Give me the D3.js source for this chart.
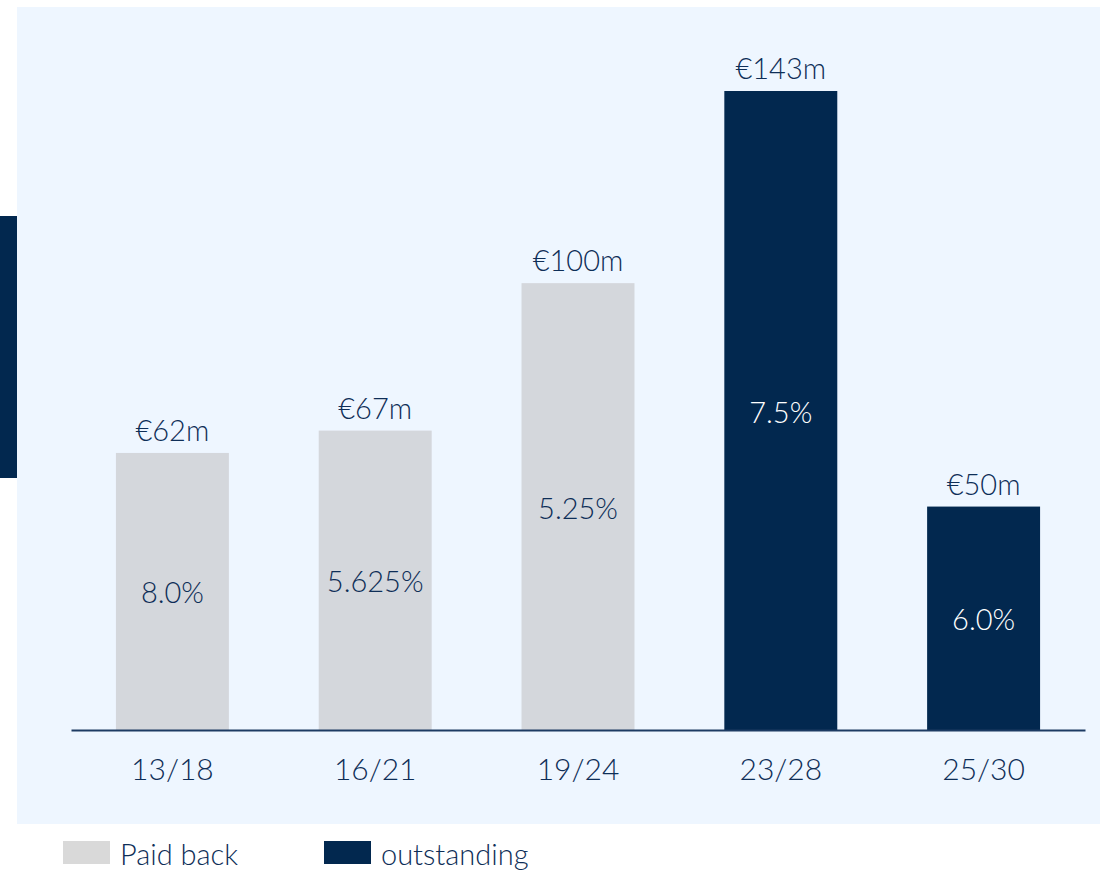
<!DOCTYPE html>
<html>
<head>
<meta charset="utf-8">
<script src="https://cdn.jsdelivr.net/npm/d3@7"></script>
<style>
  body { margin: 0; background: #ffffff; }
  svg text { font-family: Lato, "Open Sans", sans-serif; font-weight: 300; fill: #0e2e57; }
</style>
</head>
<body>
<div id="chart"></div>
<script>
// bond data
var bonds = ["13/18", "16/21", "19/24", "23/28", "25/30"];
var amounts = [62, 67, 100, 143, 50];
var coupons = ["8.0%", "5.625%", "5.25%", "7.5%", "6.0%"];
var bondStatus = ["Paid back", "Paid back", "Paid back", "outstanding", "outstanding"];
var legendItems = ["Paid back", "outstanding"];

var width = 1100, height = 872;
var colors = {"Paid back": "#d4d7dc", "outstanding": "#02284f"};

var svg = d3.select("#chart")
  .append("svg")
    .attr("width", width)
    .attr("height", height);

// panel background
svg.append("rect")
  .attr("x", 17).attr("y", 7)
  .attr("width", width - 17).attr("height", 817)
  .attr("fill", "#eef6ff");

// dark accent on left edge
svg.append("rect")
  .attr("x", 0).attr("y", 216)
  .attr("width", 17).attr("height", 262)
  .attr("fill", "#02284f");

var x = d3.scaleBand()
  .domain(bonds)
  .range([71, 1085])
  .paddingInner(0.443)
  .paddingOuter(0.2215);

var y = d3.scaleLinear()
  .domain([0, 143])
  .range([730, 91]);

var data = bonds.map(function(b, i) {
  return {bond: b, amount: amounts[i], coupon: coupons[i], status: bondStatus[i]};
});

svg.append("g")
  .selectAll("rect")
  .data(data)
  .enter()
  .append("rect")
    .attr("x", function(d) { return x(d.bond); })
    .attr("y", function(d) { return y(d.amount); })
    .attr("width", x.bandwidth())
    .attr("height", function(d) { return y(0) - y(d.amount); })
    .attr("fill", function(d) { return colors[d.status]; });

// amount labels on top
svg.append("g")
  .selectAll("text")
  .data(data)
  .enter()
  .append("text")
    .attr("x", function(d) { return x(d.bond) + x.bandwidth() / 2; })
    .attr("y", function(d) { return y(d.amount) - 12; })
    .attr("text-anchor", "middle")
    .style("font-size", "29px")
    .text(function(d) { return "€" + d.amount + "m"; });

// coupon labels inside bars
svg.append("g")
  .selectAll("text")
  .data(data)
  .enter()
  .append("text")
    .attr("x", function(d) { return x(d.bond) + x.bandwidth() / 2; })
    .attr("y", function(d) { return (y(d.amount) + y(0)) / 2 + 12; })
    .attr("text-anchor", "middle")
    .style("font-size", "29px")
    .style("fill", function(d) { return d.status == "outstanding" ? "#ffffff" : "#0e2e57"; })
    .text(function(d) { return d.coupon; });

// x axis
var axis = svg.append("g")
  .attr("transform", "translate(0,730)")
  .call(d3.axisBottom(x).tickSize(0).tickPadding(50));
axis.select(".domain")
  .attr("stroke", "#1d3b63")
  .attr("stroke-width", 2);
axis.selectAll("text")
  .attr("dy", 0)
  .style("font-size", "30px")
  .style("fill", "#0e2e57")
  .style("font-weight", 300)
  .style("font-family", "Lato, 'Open Sans', sans-serif");

// legend
var legendX = [63, 324];
var legend = svg.append("g")
  .selectAll("g")
  .data(legendItems)
  .enter()
  .append("g")
    .attr("transform", function(d, i) { return "translate(" + legendX[i] + ",841)"; });

legend.append("rect")
  .attr("width", 47)
  .attr("height", 23)
  .attr("fill", function(d) { return d == "Paid back" ? "#d9d9d9" : colors[d]; });

legend.append("text")
  .attr("x", 57)
  .attr("y", 24)
  .style("font-size", "29px")
  .text(function(d) { return d; });
</script>
</body>
</html>
